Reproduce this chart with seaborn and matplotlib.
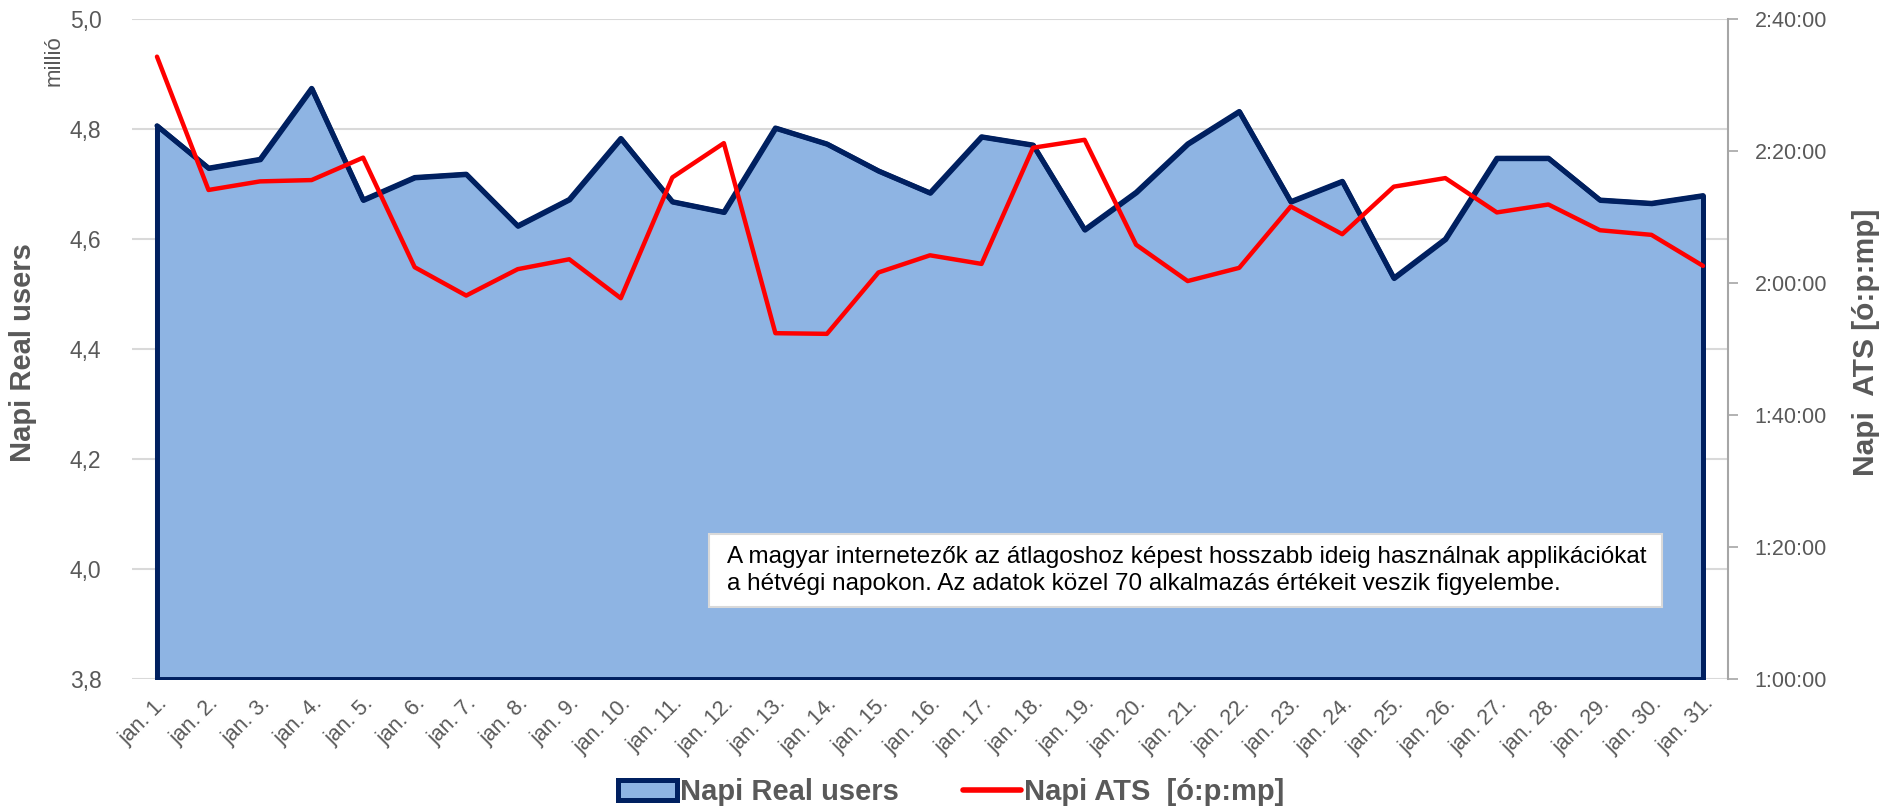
import numpy as np
import pandas as pd
import matplotlib
matplotlib.use("Agg")
import matplotlib.pyplot as plt
import matplotlib.ticker as mticker
from matplotlib.patches import Patch, Rectangle
from matplotlib.lines import Line2D
import seaborn as sns

# napok
days = ["jan. %d." % d for d in range(1, 32)]

# Napi Real users (millió)
users = [4.806, 4.729, 4.745, 4.874, 4.671, 4.712, 4.718, 4.624, 4.672, 4.783,
         4.668, 4.649, 4.802, 4.773, 4.724, 4.684, 4.786, 4.771, 4.617, 4.685,
         4.773, 4.832, 4.668, 4.705, 4.529, 4.600, 4.747, 4.747, 4.671, 4.665,
         4.679]

# Napi ATS, percben
ats_min = [154.3, 134.1, 135.4, 135.6, 139.0, 122.4, 118.1, 122.1, 123.6, 117.7,
           136.0, 141.2, 112.4, 112.3, 121.6, 124.2, 122.9, 140.5, 141.7, 125.8,
           120.3, 122.3, 131.6, 127.4, 134.6, 135.9, 130.7, 131.9, 128.0, 127.3,
           122.6]

note = ("A magyar internetezők az átlagoshoz képest hosszabb ideig használnak applikációkat\n"
        "a hétvégi napokon. Az adatok közel 70 alkalmazás értékeit veszik figyelembe.")

df = pd.DataFrame({"nap": np.arange(len(days)), "users": users, "ats": ats_min})

sns.set_style("white")
plt.rcParams["font.family"] = ["Liberation Sans", "DejaVu Sans"]

navy = "#002060"
fill = "#8EB4E3"
grey = "#595959"

fig = plt.figure(figsize=(18.91, 8.10), dpi=100)
ax = fig.add_axes([0.0698, 0.1617, 0.844, 0.8148])

ax.fill_between(df["nap"], df["users"], 3.8, facecolor=fill, edgecolor=navy,
                linewidth=3.6, zorder=2)
sns.lineplot(data=df, x="nap", y="users", ax=ax, color=navy, linewidth=3.6, zorder=3)

ax.set_ylim(3.8, 5.0)
ax.set_xlim(-0.485, 30.485)
ax.set_yticks(np.arange(3.8, 5.01, 0.2))
ax.yaxis.set_major_formatter(mticker.FuncFormatter(lambda v, p: ("%.1f" % v).replace(".", ",")))
ax.set_xticks(df["nap"])
ax.set_xticklabels(days, rotation=45, ha="right", rotation_mode="anchor")
ax.tick_params(axis="x", length=0, pad=10, labelsize=15.5, labelcolor=grey)
ax.tick_params(axis="y", length=0, pad=22, labelsize=16.5, labelcolor=grey)
ax.grid(axis="y", color="#D9D9D9", linewidth=1.5, zorder=0)
ax.set_axisbelow(True)
for s in ax.spines.values():
    s.set_visible(False)
ax.set_xlabel("")
ax.set_ylabel("")

ax2 = ax.twinx()
sns.lineplot(data=df, x="nap", y="ats", ax=ax2, color="#FF0000", linewidth=3.2, zorder=4)
ax2.set_ylim(60, 160)
ax2.set_yticks(np.arange(60, 161, 20))
ax2.yaxis.set_major_formatter(mticker.FuncFormatter(
    lambda v, p: "%d:%02d:00" % (int(v) // 60, int(v) % 60)))
ax2.tick_params(axis="y", length=7, width=1.2, color="#A6A6A6", pad=12,
                labelsize=15.5, labelcolor=grey)
for k, s in ax2.spines.items():
    s.set_visible(k == "right")
ax2.spines["right"].set_color("#A6A6A6")
ax2.spines["right"].set_linewidth(1.5)
ax2.set_ylabel("")
ax2.set_xlabel("")

fig.text(0.012, 0.565, "Napi Real users", rotation=90, ha="center", va="center",
         fontsize=21, fontweight="bold", color=grey)
fig.text(0.987, 0.578, "Napi  ATS [ó:p:mp]", rotation=90, ha="center", va="center",
         fontsize=21.5, fontweight="bold", color=grey)
fig.text(0.0285, 0.925, "millió", rotation=90, ha="center", va="center",
         fontsize=16, color=grey)

# megjegyzés doboz
ax.add_patch(Rectangle((0.3615, 0.109), 0.597, 0.1107, transform=ax.transAxes,
                       facecolor="white", edgecolor="#D9D9D9", linewidth=1.5, zorder=5))
ax.text(0.3728, 0.164, note, transform=ax.transAxes, ha="left", va="center",
        fontsize=17.5, color="black", linespacing=1.3, zorder=6)

handles = [Patch(facecolor=fill, edgecolor=navy, linewidth=3.6),
           Line2D([0], [0], color="#FF0000", linewidth=4)]
fig.legend(handles, ["Napi Real users", "Napi ATS  [ó:p:mp]"], loc="lower center",
           bbox_to_anchor=(0.503, -0.028), ncol=2, frameon=False, handlelength=2.0,
           handletextpad=0.1, columnspacing=2.2,
           prop={"size": 21, "weight": "bold"}, labelcolor=grey)

fig.savefig("out.png", dpi=100)
